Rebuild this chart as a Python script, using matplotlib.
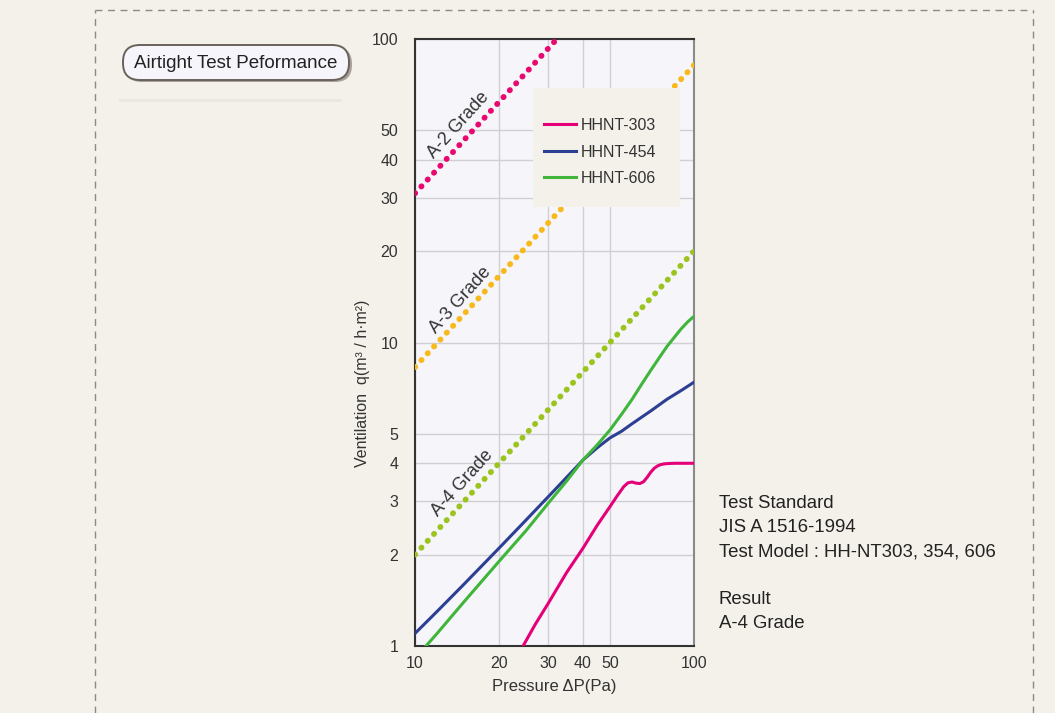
import matplotlib
matplotlib.use("Agg")
import matplotlib.pyplot as plt
from matplotlib.patches import FancyBboxPatch, Rectangle
from matplotlib.lines import Line2D
import numpy as np

plt.rcParams['font.family'] = ['Liberation Sans', 'DejaVu Sans']

# ---- data ----
x_ticks = [10, 20, 30, 40, 50, 100]
y_ticks = [1, 2, 3, 4, 5, 10, 20, 30, 40, 50, 100]

grade_names = ["A-2 Grade", "A-3 Grade", "A-4 Grade"]
grade_x = [10, 100]
grade_a2 = [31, 310]
grade_a3 = [8.3, 82]
grade_a4 = [2.0, 20.0]

p303 = [24.4, 27, 30, 35, 40, 45, 50, 53, 56, 58, 60, 62, 64, 66, 68, 70, 72, 74, 76, 78, 80, 85, 90, 100]
q303 = [1.0, 1.18, 1.38, 1.75, 2.1, 2.5, 2.88, 3.12, 3.35, 3.45, 3.47, 3.44, 3.43, 3.48, 3.6, 3.74, 3.85, 3.92, 3.96, 3.98, 3.99, 4.0, 4.0, 4.0]

p454 = [10, 12, 15, 20, 25, 30, 35, 40, 45, 50, 55, 60, 70, 80, 90, 100]
q454 = [1.1, 1.3, 1.6, 2.1, 2.6, 3.1, 3.6, 4.1, 4.5, 4.85, 5.1, 5.4, 5.95, 6.5, 6.95, 7.4]

p606 = [10.95, 12, 15, 20, 25, 30, 35, 40, 45, 50, 55, 60, 65, 70, 75, 80, 85, 90, 95, 100]
q606 = [1.0, 1.1, 1.4, 1.9, 2.4, 2.95, 3.5, 4.1, 4.6, 5.15, 5.8, 6.5, 7.3, 8.1, 8.9, 9.7, 10.4, 11.1, 11.7, 12.2]

series_names = ["HHNT-303", "HHNT-454", "HHNT-606"]
series_colors = ["#e5007a", "#2c3f93", "#3fb63a"]

info_lines = ["Test Standard", "JIS A 1516-1994", "Test Model : HH-NT303, 354, 606", "", "Result", "A-4 Grade"]

# ---- figure ----
bg = "#f4f1ea"
W, H = 1055, 713
fig = plt.figure(figsize=(10.55, 7.13), dpi=100, facecolor=bg)

# dashed frame
frame_kw = dict(color="#8a8a8a", lw=1.0, ls=(0, (5, 4)), transform=fig.transFigure)
fig.add_artist(Line2D([95 / W, 95 / W], [0, 1 - 10 / H], **frame_kw))
fig.add_artist(Line2D([1033 / W, 1033 / W], [0, 1 - 10 / H], **frame_kw))
fig.add_artist(Line2D([95 / W, 1033 / W], [1 - 10 / H, 1 - 10 / H], **frame_kw))

ax = fig.add_axes([415 / W, 1 - 646 / H, (694 - 415) / W, (646 - 39) / H])
ax.set_facecolor("#f5f5fa")
ax.set_xscale("log")
ax.set_yscale("log")
ax.set_xlim(10, 100)
ax.set_ylim(1, 100)

ax.set_xticks(x_ticks)
ax.set_xticklabels([str(v) for v in x_ticks])
ax.set_yticks(y_ticks)
ax.set_yticklabels([str(v) for v in y_ticks])
ax.minorticks_off()
ax.tick_params(axis="x", length=0, labelsize=11.5, colors="#333333", pad=7)
ax.tick_params(axis="y", length=0, labelsize=11.5, colors="#333333", pad=12)
ax.grid(True, color="#cfcfd4", lw=1.0)
ax.set_axisbelow(True)

for s in ["left", "top", "bottom"]:
    ax.spines[s].set_color("#333333")
    ax.spines[s].set_linewidth(1.5)
ax.spines["right"].set_color("#8a8a8a")
ax.spines["right"].set_linewidth(1.5)

# grade lines (round dots)
grade_vals = [grade_a2, grade_a3, grade_a4]
grade_colors = ["#e8086f", "#f8b91c", "#9cc41e"]
for vals, c in zip(grade_vals, grade_colors):
    ax.plot(grade_x, vals, color=c, lw=4.2, ls=(0, (0.05, 1.55)), dash_capstyle="round",
            zorder=3)

grade_text_pos = [(458, 125), (460, 300), (462, 483)]
for name, (px, py) in zip(grade_names, grade_text_pos):
    fig.text(px / W, 1 - py / H, name, rotation=48, ha="center", va="center",
             fontsize=13, color="#333333", rotation_mode="anchor")

# series
for p, q, c, n in zip([p303, p454, p606], [q303, q454, q606], series_colors, series_names):
    ax.plot(p, q, color=c, lw=2.2, label=n, zorder=4, solid_joinstyle="round")

# legend background
ax.add_patch(Rectangle(((533 - 415) / 279, 1 - (207 - 39) / 607), (680 - 533) / 279, (207 - 88) / 607,
                       transform=ax.transAxes, facecolor=bg, edgecolor="none", zorder=5))
leg = ax.legend(loc="upper left", bbox_to_anchor=((544 - 415) / 279, 1 - (118 - 39) / 607),
                frameon=False, fontsize=11.5, handlelength=2.0, handletextpad=0.3,
                borderpad=0, labelspacing=0.72, borderaxespad=0)
leg.set_zorder(6)
for t in leg.get_texts():
    t.set_color("#333333")

ax.set_xlabel("Pressure ΔP(Pa)", fontsize=12, color="#333333", labelpad=6)
ax.set_ylabel("Ventilation  q(m³ / h·m²)", fontsize=11.5, color="#333333")
ax.yaxis.set_label_coords(-0.16, 0.433)

# title box with shadow
sh = FancyBboxPatch((125 / W, 1 - 82 / H), (351 - 124) / W, (80 - 45) / H,
                    boxstyle="round,pad=0,rounding_size=0.016", transform=fig.transFigure,
                    facecolor="#6a625a", edgecolor="none", alpha=0.55, mutation_aspect=1.48)
fig.add_artist(sh)
tb = FancyBboxPatch((123 / W, 1 - 80 / H), (350 - 124) / W, (80 - 45) / H,
                    boxstyle="round,pad=0,rounding_size=0.016", transform=fig.transFigure,
                    facecolor="#f6f5fb", edgecolor="#6a625a", lw=1.4, mutation_aspect=1.48)
fig.add_artist(tb)
fig.text(236 / W, 1 - 63 / H, "Airtight Test Peformance", ha="center", va="center",
         fontsize=13.5, color="#222222")
fig.add_artist(Line2D([120 / W, 340 / W], [1 - 100 / H, 1 - 100 / H], color="#ece8e0",
                      lw=2, transform=fig.transFigure))

# info text
for i, line in enumerate(info_lines):
    fig.text(719 / W, 1 - (504 + 24 * i) / H, line, ha="left", va="center",
             fontsize=13.4, color="#222222")

fig.savefig("out.png", dpi=100, facecolor=bg)
